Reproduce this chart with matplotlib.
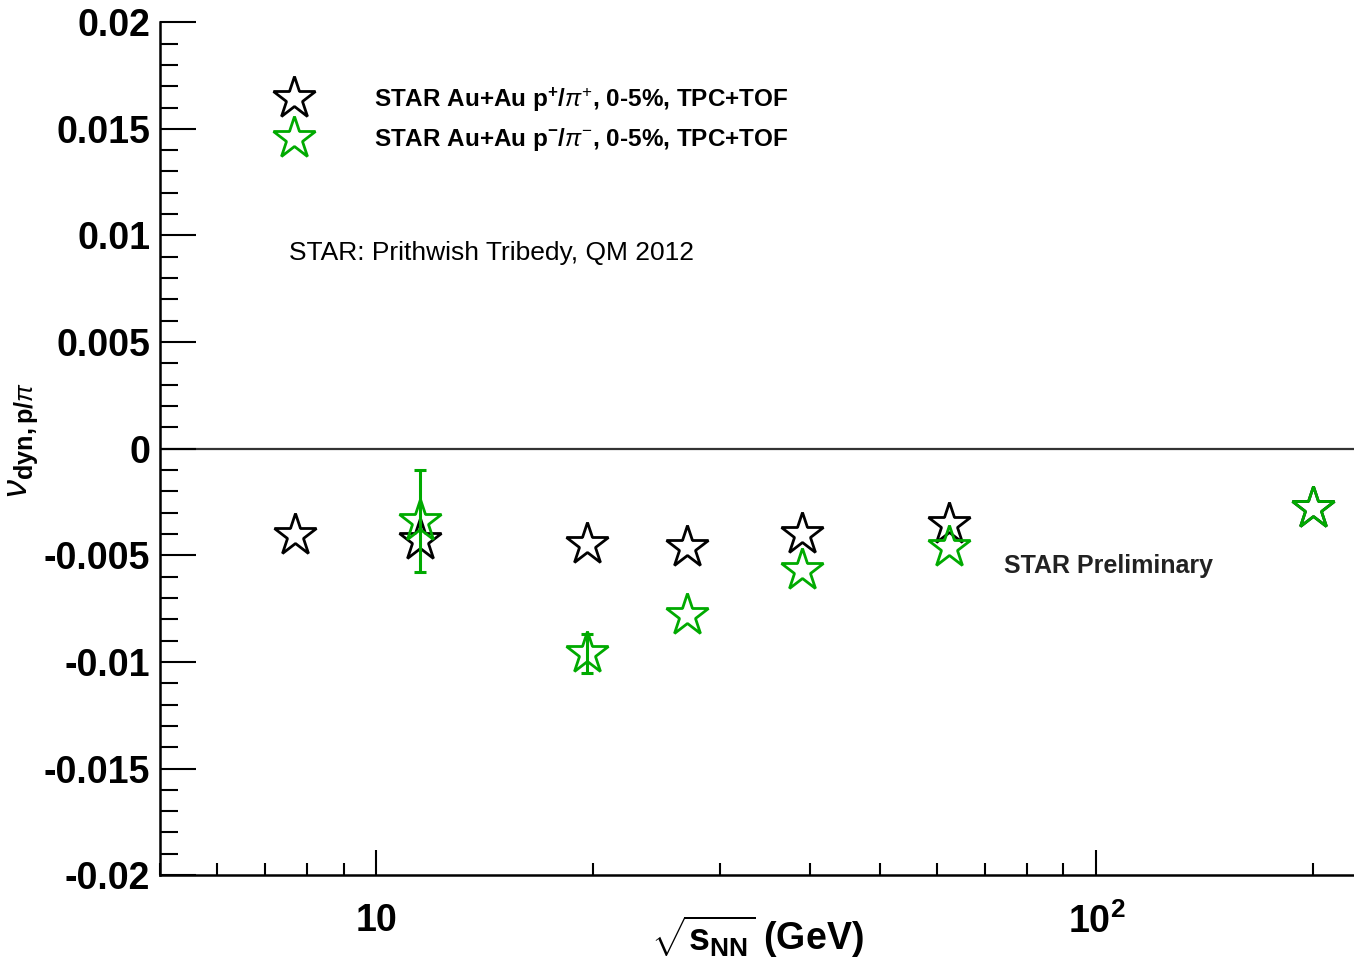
import numpy as np
import matplotlib
matplotlib.use('Agg')
from matplotlib import pyplot as plt
from matplotlib.ticker import FixedLocator, MultipleLocator, LogLocator, NullFormatter, FixedFormatter

plt.rcParams['font.family'] = 'Liberation Sans'
plt.rcParams['mathtext.fontset'] = 'custom'
plt.rcParams['mathtext.rm'] = 'Liberation Sans'
plt.rcParams['mathtext.bf'] = 'Liberation Sans:bold'
plt.rcParams['mathtext.it'] = 'Liberation Sans:italic'

''' Beam energies (GeV) and dynamical fluctuation values for the two ratios.'''

energies = [7.7, 11.5, 19.6, 27, 39, 62.4, 200]
vdyn_pos = [-0.00406, -0.00429, -0.00445, -0.00461, -0.0040, -0.00354, -0.00279]

energies_neg = [11.5, 19.6, 27, 39, 62.4, 200]
vdyn_neg = [-0.0034, -0.0096, -0.0078, -0.0057, -0.0046, -0.0028]
err_neg = [0.0024, 0.0009, 0.0, 0.0, 0.0, 0.0]

xticks = [10, 100]
xticklabels = ['10', r'$\mathbf{10^{2}}$']
yticks = [-0.02, -0.015, -0.01, -0.005, 0, 0.005, 0.01, 0.015, 0.02]
yticklabels = ['-0.02', '-0.015', '-0.01', '-0.005', '0', '0.005', '0.01', '0.015', '0.02']

green = '#00aa00'

fig = plt.figure(figsize = (13.54, 9.67), dpi = 100)
ax = fig.add_axes([0.118, 0.095, 0.882, 0.882])

ax.axhline(0, color = '#333333', lw = 1.6, zorder = 1)

''' Black: p+/pi+, green: p-/pi-. Error bars only where they stick out of the star.'''

l1, = ax.plot(energies, vdyn_pos, ls = 'none', marker = '*', ms = 32, mfc = 'white',
              mec = 'black', mew = 2, zorder = 3)
has_err = np.array(err_neg) > 0
ax.errorbar(np.array(energies_neg)[has_err], np.array(vdyn_neg)[has_err],
            yerr = np.array(err_neg)[has_err], fmt = 'none', ecolor = green,
            elinewidth = 2.2, capsize = 4, capthick = 2.2, zorder = 4)
l2, = ax.plot(energies_neg, vdyn_neg, ls = 'none', marker = '*', ms = 32, mfc = 'none',
              mec = green, mew = 2, zorder = 5)

ax.set_xscale('log')
ax.set_xlim(5.0, 228)
ax.set_ylim(-0.02, 0.02)

ax.xaxis.set_major_locator(FixedLocator(xticks))
ax.xaxis.set_major_formatter(FixedFormatter(xticklabels))
ax.xaxis.set_minor_locator(LogLocator(base = 10, subs = np.arange(2, 10)))
ax.xaxis.set_minor_formatter(NullFormatter())
ax.yaxis.set_major_locator(FixedLocator(yticks))
ax.yaxis.set_major_formatter(FixedFormatter(yticklabels))
ax.yaxis.set_minor_locator(MultipleLocator(0.001))

for side in ['top', 'right']:
    ax.spines[side].set_visible(False)
for side in ['left', 'bottom']:
    ax.spines[side].set_linewidth(1.8)

ax.tick_params(axis = 'y', which = 'major', direction = 'in', length = 26, width = 1.5,
               labelsize = 27, pad = 7)
ax.tick_params(axis = 'y', which = 'minor', direction = 'in', length = 13, width = 1.5)
ax.tick_params(axis = 'x', which = 'major', direction = 'in', length = 18, width = 1.5,
               labelsize = 27, pad = 20)
ax.tick_params(axis = 'x', which = 'minor', direction = 'in', length = 9, width = 1.5)
for lab in ax.get_xticklabels() + ax.get_yticklabels():
    lab.set_fontweight('bold')

ax.set_xlabel(r'$\sqrt{\mathbf{s}_{\mathbf{NN}}}$ (GeV)', fontsize = 27, fontweight = 'bold')
ax.xaxis.set_label_coords(0.5, -0.045)
ax.set_ylabel(r'$\nu_{\mathbf{dyn,p/}\pi}$', fontsize = 26)
ax.yaxis.set_label_coords(-0.1, 0.51)

leg = ax.legend([l1, l2],
                [r'STAR Au+Au p$^{\mathbf{+}}$/$\pi^{+}$, 0-5%, TPC+TOF',
                 r'STAR Au+Au p$^{\mathbf{-}}$/$\pi^{-}$, 0-5%, TPC+TOF'],
                loc = 'upper left', bbox_to_anchor = (0.088, 0.937), frameon = False,
                prop = {'size': 17.5, 'weight': 'bold'}, handlelength = 1.6,
                handletextpad = 2.5, labelspacing = 0.5, borderaxespad = 0)

ax.text(0.108, 0.73, 'STAR: Prithwish Tribedy, QM 2012', transform = ax.transAxes,
        fontsize = 19, va = 'center', ha = 'left')
ax.text(0.707, 0.363, 'STAR Preliminary', transform = ax.transAxes,
        fontsize = 18, fontweight = 'bold', color = '#222222', va = 'center', ha = 'left')

plt.savefig('out.png', dpi = 100)
